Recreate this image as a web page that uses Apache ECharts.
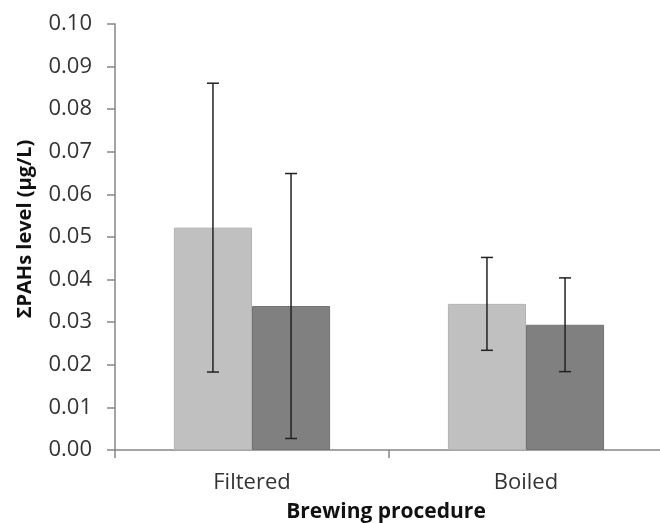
<!DOCTYPE html>
<html>
<head>
<meta charset="utf-8">
<script src="https://cdn.jsdelivr.net/npm/echarts@6/dist/echarts.min.js"></script>
<style>html,body{margin:0;padding:0;background:#fff;}#c{width:660px;height:523px;}</style>
</head>
<body>
<div id="c"></div>
<script>
var categories = ['Filtered', 'Boiled'];
var series1Values = [0.0522, 0.0343];
var series1Err = [0.0339, 0.0109];
var series2Values = [0.0338, 0.0294];
var series2Err = [0.0311, 0.0110];
var yTicks = ['0.00','0.01','0.02','0.03','0.04','0.05','0.06','0.07','0.08','0.09','0.10'];

var FONT = 'Open Sans';
var CAT_GAP = 0.43;

function errSeries(values, errs, sign) {
  return {
    type: 'custom',
    z: 10,
    data: values.map(function (v, i) { return [i, v - errs[i], v + errs[i]]; }),
    encode: { x: 0, y: [1, 2] },
    renderItem: function (params, api) {
      var i = api.value(0);
      var band = api.size([1, 0])[0];
      var bw = band * (1 - CAT_GAP) / 2;
      var lo = api.coord([i, api.value(1)]);
      var hi = api.coord([i, api.value(2)]);
      var x = lo[0] + sign * bw / 2;
      var cap = 6;
      var st = { stroke: '#222', lineWidth: 1.5 };
      return {
        type: 'group',
        children: [
          { type: 'line', shape: { x1: x, y1: hi[1], x2: x, y2: lo[1] }, style: st },
          { type: 'line', shape: { x1: x - cap, y1: hi[1], x2: x + cap, y2: hi[1] }, style: st },
          { type: 'line', shape: { x1: x - cap, y1: lo[1], x2: x + cap, y2: lo[1] }, style: st }
        ]
      };
    }
  };
}

var chart = echarts.init(document.getElementById('c'));
chart.setOption({
  animation: false,
  grid: { left: 115, top: 24, width: 548, height: 426, containLabel: false, outerBoundsMode: 'none' },
  xAxis: {
    type: 'category',
    data: categories,
    axisLine: { lineStyle: { color: '#868686', width: 1.5 } },
    axisTick: { show: true, length: 8, lineStyle: { color: '#868686', width: 1.5 } },
    axisLabel: { color: '#333', fontFamily: FONT, fontSize: 22, margin: 22 },
    name: 'Brewing procedure',
    nameLocation: 'middle',
    nameGap: 52,
    nameTextStyle: { color: '#111', fontFamily: FONT, fontWeight: 'bold', fontSize: 21, padding: [0, 0, 0, -6] }
  },
  yAxis: {
    type: 'value',
    min: 0, max: 0.1, interval: 0.01,
    splitLine: { show: false },
    axisLine: { show: true, lineStyle: { color: '#868686', width: 1.5 } },
    axisTick: { show: true, length: 8, lineStyle: { color: '#868686', width: 1.5 } },
    axisLabel: {
      color: '#333', fontFamily: FONT, fontSize: 22, margin: 23,
      formatter: function (v) { return yTicks[Math.round(v * 100)]; }
    },
    name: 'ΣPAHs level (µg/L)',
    nameLocation: 'middle',
    nameGap: 80,
    nameTextStyle: { color: '#111', fontFamily: FONT, fontWeight: 'bold', fontSize: 20, padding: [0, 0, 0, 16] }
  },
  series: [
    {
      type: 'bar', data: series1Values, barGap: '0%', barCategoryGap: '43%',
      itemStyle: { color: '#c0c0c0', borderColor: '#b3b3b3', borderWidth: 1 }
    },
    {
      type: 'bar', data: series2Values, barGap: '0%', barCategoryGap: '43%',
      itemStyle: { color: '#808080', borderColor: '#747474', borderWidth: 1 }
    },
    errSeries(series1Values, series1Err, -1),
    errSeries(series2Values, series2Err, 1)
  ]
});
</script>
</body>
</html>
